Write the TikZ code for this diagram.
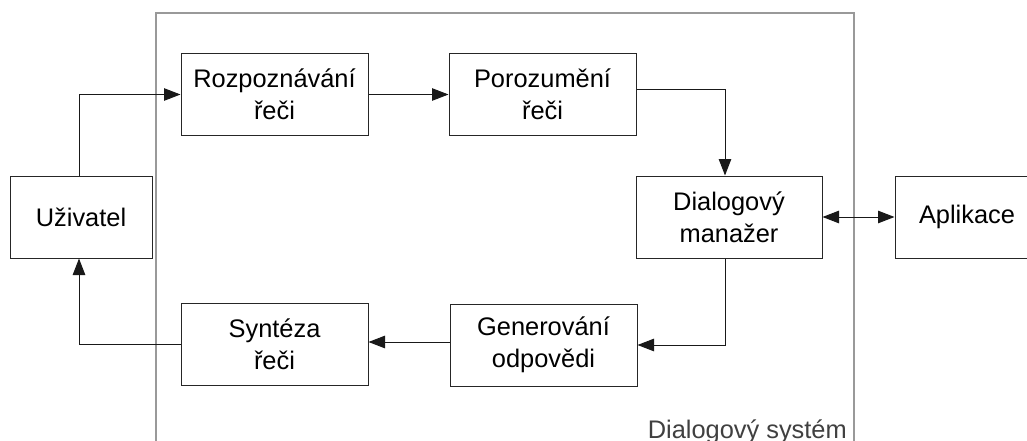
\documentclass[tikz,border=0pt]{standalone}
\usepackage{fontspec}
\setmainfont{Liberation Sans}
\usetikzlibrary{arrows.meta}
\begin{document}
\begin{tikzpicture}[x=1pt,y=-1pt,
  box/.style={draw=black!85, line width=1pt, minimum width=187pt, minimum height=81pt,
    align=center, inner sep=0pt, font=\fontsize{25.4}{32}\selectfont},
  tip/.tip={Triangle[length=16.5pt,width=12.5pt]},
  conn/.style={draw=black!90, line width=1pt, -tip},
  frame/.style={draw=black!40, line width=1.2pt},
]
\useasboundingbox (0,0) rectangle (1027,441);
\clip (0,0) rectangle (1027,441);
% system frame
\draw[frame] (156,470) -- (156,13) -- (854,13) -- (854,470);
\node[anchor=base east, text=black!75, inner sep=0pt, font=\fontsize{25.4}{32}\selectfont] (syslabel) at (847,438) {Dialogový systém};
% nodes
\node[box, minimum width=142pt, minimum height=82pt] (user) at (81,217) {Uživatel};
\node[box] (rec) at (274.5,94.5) {Rozpoznávání\\řeči};
\node[box] (und) at (542.5,94.5) {Porozumění\\řeči};
\node[box, minimum width=186pt, minimum height=82pt] (dm) at (729,217) {Dialogový\\manažer};
\node[box, minimum width=144pt, minimum height=82pt] (app) at (967,217) {Aplikace};
\node[box, minimum height=82pt] (syn) at (274.5,344) {Syntéza\\řeči};
\node[box, minimum height=82pt] (gen) at (543.5,345) {Generování\\odpovědi};
% connectors
\draw[conn] ([xshift=-2pt]user.north) |- (rec.west);
\draw[conn] (rec.east) -- (und.west);
\draw[conn] ([yshift=4.5pt]und.east) -| ([xshift=-4pt]dm.north);
\draw[conn, tip-tip] (dm.east) -- (app.west);
\draw[conn] ([xshift=-4pt]dm.south) |- (gen.east);
\draw[conn] ([yshift=3pt]gen.west) -- ([yshift=3pt]gen.west -| syn.east);
\draw[conn] (syn.west) -| ([xshift=-2pt]user.south);
\end{tikzpicture}
\end{document}
